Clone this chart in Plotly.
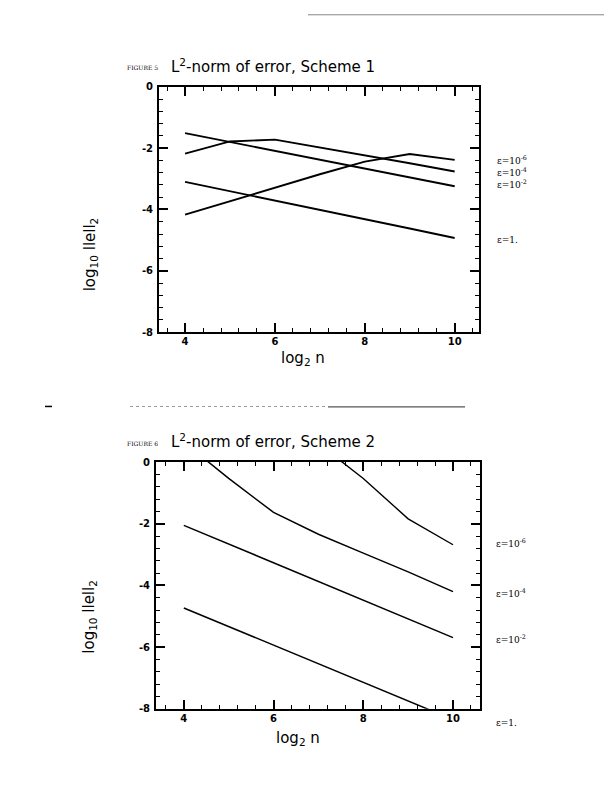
import plotly.graph_objects as go

# ---------------- data ----------------
n_log2 = [4, 5, 6, 7, 8, 9, 10]

# Figure 5, Scheme 1 : log10 ||e||_2
s1_eps_1e6 = [-4.17, -3.73, -3.29, -2.85, -2.44, -2.19, -2.38]
s1_eps_1e4 = [-2.18, -1.78, -1.72, -1.97, -2.23, -2.49, -2.76]
s1_eps_1e2 = [-1.51, -1.80, -2.08, -2.37, -2.66, -2.95, -3.24]
s1_eps_1 = [-3.10, -3.40, -3.71, -4.01, -4.32, -4.62, -4.93]

# Figure 6, Scheme 2
s2_x_1e6 = [7, 8, 9, 10]
s2_eps_1e6 = [0.6, -0.53, -1.84, -2.68]
s2_eps_1e4 = [0.65, -0.53, -1.63, -2.34, -2.95, -3.56, -4.20]
s2_eps_1e2 = [-2.05, -2.66, -3.27, -3.88, -4.48, -5.09, -5.69]
s2_eps_1 = [-4.73, -5.33, -5.93, -6.55, -7.15, -7.75, -8.35]

x_tick_vals = [4, 6, 8, 10]
x_tick_text = ["4", "6", "8", "10"]
y_tick_vals = [0, -2, -4, -6, -8]
y_tick_text = ["0", "-2", "-4", "-6", "-8"]

labels_1 = ["ε=10<sup>-6</sup>", "ε=10<sup>-4</sup>", "ε=10<sup>-2</sup>", "ε=1."]
label_y_1 = [-2.38, -2.78, -3.18, -4.98]
labels_2 = ["ε=10<sup>-6</sup>", "ε=10<sup>-4</sup>", "ε=10<sup>-2</sup>", "ε=1."]
label_y_2 = [-2.61, -4.26, -5.73, -8.47]

W, H = 612, 791
fig = go.Figure()

for ys in [s1_eps_1e6, s1_eps_1e4, s1_eps_1e2, s1_eps_1]:
    fig.add_trace(go.Scatter(x=n_log2, y=ys, mode="lines", line=dict(color="black", width=1.9),
                             xaxis="x", yaxis="y", showlegend=False))
fig.add_trace(go.Scatter(x=s2_x_1e6, y=s2_eps_1e6, mode="lines", line=dict(color="black", width=1.4),
                         xaxis="x2", yaxis="y2", showlegend=False))
for ys in [s2_eps_1e4, s2_eps_1e2, s2_eps_1]:
    fig.add_trace(go.Scatter(x=n_log2, y=ys, mode="lines", line=dict(color="black", width=1.5),
                             xaxis="x2", yaxis="y2", showlegend=False))

tick_font = dict(family="DejaVu Sans", size=10, color="black")

def xaxis(dom, rng, anchor):
    return dict(domain=dom, range=rng, anchor=anchor, showgrid=False, zeroline=False,
                showline=True, linecolor="black", linewidth=2, mirror="ticks",
                ticks="inside", ticklen=9, tickwidth=1.8, tickcolor="black",
                tickvals=x_tick_vals, ticktext=["<b>%s</b>" % t for t in x_tick_text],
                tickfont=tick_font, ticklabelstandoff=-1,
                minor=dict(tick0=4, dtick=0.4, ticks="inside", ticklen=4,
                           tickwidth=1.4, tickcolor="black", showgrid=False))

def yaxis(dom, anchor):
    return dict(domain=dom, range=[-8, 0], anchor=anchor, showgrid=False, zeroline=False,
                showline=True, linecolor="black", linewidth=2, mirror="ticks",
                ticks="inside", ticklen=9, tickwidth=1.8, tickcolor="black",
                tickvals=y_tick_vals, ticktext=["<b>%s</b>" % t for t in y_tick_text],
                tickfont=tick_font, ticklabelstandoff=2,
                minor=dict(tick0=0, dtick=0.4, ticks="inside", ticklen=4,
                           tickwidth=1.4, tickcolor="black", showgrid=False))

def px_x(p):
    return p / W

def px_y(p):
    return 1 - p / H

fig.update_layout(
    width=W, height=H, margin=dict(l=0, r=0, t=0, b=0),
    paper_bgcolor="white", plot_bgcolor="white",
    xaxis=xaxis([px_x(151), px_x(470.5)], [3.42, 10.53], "y"),
    yaxis=yaxis([px_y(323), px_y(74)], "x"),
    xaxis2=xaxis([px_x(148), px_x(471.5)], [3.38, 10.59], "y2"),
    yaxis2=yaxis([px_y(705.5), px_y(455)], "x2"),
)

# map a value on the bottom y axis to a paper coordinate (for labels outside the range)
def y2_paper(v):
    top, bot = 455, 705.5
    return px_y(top + (0 - v) / 8 * (bot - top))

ann = []
font_main = dict(family="DejaVu Sans", size=15, color="black")
small = dict(family="DejaVu Serif", size=6, color="black")
# titles
ann.append(dict(xref="paper", yref="paper", x=px_x(117), y=px_y(54), xanchor="left", yanchor="middle",
                text="FIGURE 5", showarrow=False, font=small))
ann.append(dict(xref="paper", yref="paper", x=px_x(161), y=px_y(53), xanchor="left", yanchor="middle",
                text="L<sup>2</sup>-norm of error, Scheme 1", showarrow=False, font=font_main))
ann.append(dict(xref="paper", yref="paper", x=px_x(117), y=px_y(436), xanchor="left", yanchor="middle",
                text="FIGURE 6", showarrow=False, font=small))
ann.append(dict(xref="paper", yref="paper", x=px_x(161), y=px_y(434), xanchor="left", yanchor="middle",
                text="L<sup>2</sup>-norm of error, Scheme 2", showarrow=False, font=font_main))
# axis titles
ann.append(dict(xref="paper", yref="paper", x=px_x(295), y=px_y(350), xanchor="center", yanchor="middle",
                text="log<sub>2</sub> n", showarrow=False, font=font_main))
ann.append(dict(xref="paper", yref="paper", x=px_x(290), y=px_y(736), xanchor="center", yanchor="middle",
                text="log<sub>2</sub> n", showarrow=False, font=font_main))
ann.append(dict(xref="paper", yref="paper", x=px_x(82), y=px_y(244), xanchor="center", yanchor="middle",
                text="log<sub>10</sub> llell<sub>2</sub>", textangle=-90, showarrow=False, font=font_main))
ann.append(dict(xref="paper", yref="paper", x=px_x(82), y=px_y(612), xanchor="center", yanchor="middle",
                text="log<sub>10</sub> llell<sub>2</sub>", textangle=-90, showarrow=False, font=font_main))
# curve labels
lab_font = dict(family="DejaVu Serif", size=9, color="black")
for t, yv in zip(labels_1, label_y_1):
    ann.append(dict(xref="paper", yref="y", x=px_x(487), y=yv, xanchor="left", yanchor="middle",
                    text=t, showarrow=False, font=lab_font))
for t, yv in zip(labels_2, label_y_2):
    ann.append(dict(xref="paper", yref="paper", x=px_x(486), y=y2_paper(yv), xanchor="left", yanchor="middle",
                    text=t, showarrow=False, font=lab_font))
fig.update_layout(annotations=ann)

# separator line between the two figures and scan edge
fig.update_layout(shapes=[
    dict(type="line", xref="paper", yref="paper", x0=px_x(122), x1=px_x(320), y0=px_y(398.5), y1=px_y(398.5),
         line=dict(color="#999999", width=1, dash="dot")),
    dict(type="line", xref="paper", yref="paper", x0=px_x(320), x1=px_x(457), y0=px_y(399), y1=px_y(399),
         line=dict(color="#555555", width=1.2)),
    dict(type="line", xref="paper", yref="paper", x0=px_x(37), x1=px_x(44), y0=px_y(398.5), y1=px_y(398.5),
         line=dict(color="black", width=1.5)),
    dict(type="line", xref="paper", yref="paper", x0=px_x(300), x1=px_x(612), y0=px_y(0.8), y1=px_y(0.8),
         line=dict(color="#888888", width=1)),
])

fig.write_html("out.html")
